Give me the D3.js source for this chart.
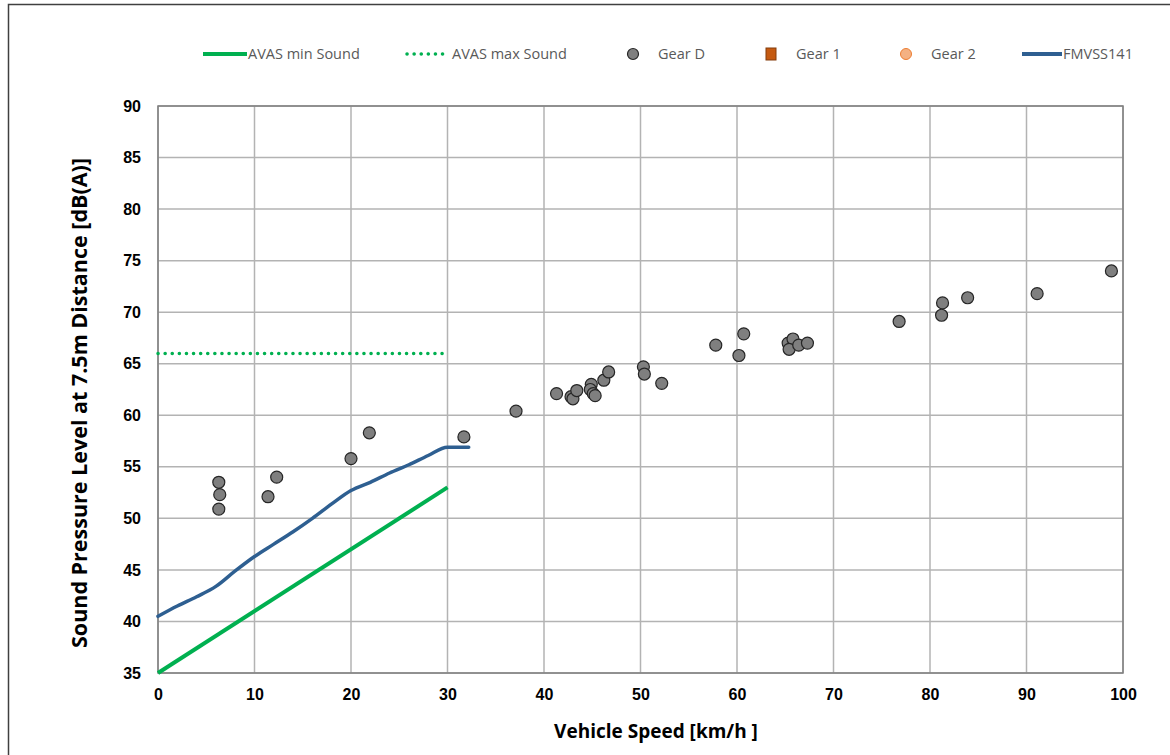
<!DOCTYPE html>
<html>
<head>
<meta charset="utf-8">
<script src="https://cdn.jsdelivr.net/npm/d3@7"></script>
<style>
  body { margin: 0; background: #fff; }
  svg { font-family: "Open Sans", "Liberation Sans", sans-serif; }
</style>
</head>
<body>
<div id="chart"></div>
<script>
// data
var gearD = [
  [6.3, 53.5], [6.4, 52.3], [6.3, 50.9], [11.4, 52.1], [12.3, 54.0],
  [20.0, 55.8], [21.9, 58.3], [31.7, 57.9], [37.1, 60.4], [41.3, 62.1],
  [42.8, 61.8], [43.0, 61.6], [43.4, 62.4], [44.9, 63.0], [44.8, 62.5],
  [45.1, 62.1], [45.3, 61.9], [46.2, 63.4], [46.7, 64.2], [50.3, 64.7],
  [50.4, 64.0], [52.2, 63.1], [57.8, 66.8], [60.2, 65.8], [60.7, 67.9],
  [65.3, 67.0], [65.8, 67.4], [65.4, 66.4], [66.4, 66.8], [67.3, 67.0],
  [76.8, 69.1], [81.2, 69.7], [81.3, 70.9], [83.9, 71.4], [91.1, 71.8],
  [98.8, 74.0]
];
var gear1 = [];
var gear2 = [];
var avasMin = [[0, 35], [30, 53]];
var avasMax = [[0, 66], [30, 66]];
var fmvss = [
  [0, 40.5], [2, 41.5], [4, 42.4], [6, 43.4], [8, 44.9], [10, 46.3],
  [12, 47.5], [14, 48.7], [16, 50.0], [18, 51.4], [20, 52.7], [22, 53.5],
  [24, 54.4], [26, 55.2], [28, 56.1], [30, 56.9], [32.2, 56.9]
];
var xTicks = [0, 10, 20, 30, 40, 50, 60, 70, 80, 90, 100];
var yTicks = [35, 40, 45, 50, 55, 60, 65, 70, 75, 80, 85, 90];

var width = 1170, height = 755;
var plotLeft = 158, plotRight = 1123, plotTop = 106, plotBottom = 673;

var svg = d3.select('#chart').append('svg')
  .attr('width', width)
  .attr('height', height);

// outer chart frame (only top and left visible in the crop)
svg.append('path')
  .attr('d', 'M8.5,755 V4.5 H1170')
  .style('fill', 'none')
  .style('stroke', '#404040')
  .style('stroke-width', 1.5);

var x = d3.scaleLinear().domain([0, 100]).range([plotLeft, plotRight]);
var y = d3.scaleLinear().domain([35, 90]).range([plotBottom, plotTop]);

// gridlines
svg.append('g').selectAll('line').data(xTicks).enter().append('line')
  .attr('x1', function(d) { return x(d); })
  .attr('x2', function(d) { return x(d); })
  .attr('y1', plotTop).attr('y2', plotBottom)
  .style('stroke', '#b3b3b3').style('stroke-width', 1.5);
svg.append('g').selectAll('line').data(yTicks).enter().append('line')
  .attr('y1', function(d) { return y(d); })
  .attr('y2', function(d) { return y(d); })
  .attr('x1', plotLeft).attr('x2', plotRight)
  .style('stroke', '#b3b3b3').style('stroke-width', 1.5);

svg.append('rect')
  .attr('x', plotLeft).attr('y', plotTop)
  .attr('width', plotRight - plotLeft).attr('height', plotBottom - plotTop)
  .style('fill', 'none').style('stroke', '#7f7f7f').style('stroke-width', 1.5);

// axes
var xAxis = svg.append('g')
  .attr('transform', 'translate(0,' + plotBottom + ')')
  .call(d3.axisBottom(x).tickValues(xTicks).tickSize(0).tickPadding(16));
var yAxis = svg.append('g')
  .attr('transform', 'translate(' + plotLeft + ',0)')
  .call(d3.axisLeft(y).tickValues(yTicks).tickSize(0).tickPadding(17));
[xAxis, yAxis].forEach(function(g) {
  g.select('.domain').remove();
  g.selectAll('text')
    .style('font-size', '16px')
    .style('font-weight', 'bold')
    .style('fill', '#000');
});

svg.append('text')
  .attr('x', 656).attr('y', 738)
  .attr('text-anchor', 'middle')
  .style('font-size', '19px').style('font-weight', 'bold')
  .text('Vehicle Speed [km/h ]');
svg.append('text')
  .attr('transform', 'translate(87,403) rotate(-90)')
  .attr('text-anchor', 'middle')
  .style('font-size', '21.5px').style('font-weight', 'bold')
  .text('Sound Pressure Level at 7.5m Distance [dB(A)]');

var line = d3.line()
  .x(function(d) { return x(d[0]); })
  .y(function(d) { return y(d[1]); });

svg.append('path').datum(avasMin)
  .attr('d', line)
  .style('fill', 'none').style('stroke', '#00b050').style('stroke-width', 4);
svg.append('path').datum(avasMax)
  .attr('d', line)
  .style('fill', 'none').style('stroke', '#00b050').style('stroke-width', 3.5)
  .style('stroke-dasharray', '0.1,7').style('stroke-linecap', 'round');
svg.append('path').datum(fmvss)
  .attr('d', line.curve(d3.curveMonotoneX))
  .style('fill', 'none').style('stroke', '#2e5f91').style('stroke-width', 3.5)
  .style('stroke-linecap', 'round');

svg.append('g').selectAll('circle').data(gearD).enter().append('circle')
  .attr('cx', function(d) { return x(d[0]); })
  .attr('cy', function(d) { return y(d[1]); })
  .attr('r', 6)
  .style('fill', '#7f7f7f').style('stroke', '#262626').style('stroke-width', 1.2);
svg.append('g').selectAll('rect').data(gear1).enter().append('rect')
  .attr('x', function(d) { return x(d[0]) - 5; })
  .attr('y', function(d) { return y(d[1]) - 6; })
  .attr('width', 10).attr('height', 12)
  .style('fill', '#c55a11').style('stroke', '#843c0c');
svg.append('g').selectAll('circle').data(gear2).enter().append('circle')
  .attr('cx', function(d) { return x(d[0]); })
  .attr('cy', function(d) { return y(d[1]); })
  .attr('r', 5)
  .style('fill', '#f4b183').style('stroke', '#ed7d31');

// legend
var ly = 54;
var legend = svg.append('g').style('font-size', '14.5px').style('fill', '#595959');
legend.append('line').attr('x1', 203).attr('x2', 247).attr('y1', ly).attr('y2', ly)
  .style('stroke', '#00b050').style('stroke-width', 4);
legend.append('text').attr('x', 248).attr('y', ly + 5).text('AVAS min Sound');
legend.append('line').attr('x1', 407).attr('x2', 445).attr('y1', ly).attr('y2', ly)
  .style('stroke', '#00b050').style('stroke-width', 3.5)
  .style('stroke-dasharray', '0.1,7').style('stroke-linecap', 'round');
legend.append('text').attr('x', 452).attr('y', ly + 5).text('AVAS max Sound');
legend.append('circle').attr('cx', 633).attr('cy', ly).attr('r', 5.5)
  .style('fill', '#7f7f7f').style('stroke', '#262626').style('stroke-width', 1.2);
legend.append('text').attr('x', 658).attr('y', ly + 5).text('Gear D');
legend.append('rect').attr('x', 766).attr('y', ly - 6).attr('width', 10).attr('height', 12)
  .style('fill', '#c55a11').style('stroke', '#843c0c');
legend.append('text').attr('x', 796).attr('y', ly + 5).text('Gear 1');
legend.append('circle').attr('cx', 906).attr('cy', ly).attr('r', 5.5)
  .style('fill', '#f4b183').style('stroke', '#ed7d31');
legend.append('text').attr('x', 931).attr('y', ly + 5).text('Gear 2');
legend.append('line').attr('x1', 1022).attr('x2', 1062).attr('y1', ly).attr('y2', ly)
  .style('stroke', '#2e5f91').style('stroke-width', 4);
legend.append('text').attr('x', 1063).attr('y', ly + 5).text('FMVSS141');
</script>
</body>
</html>
